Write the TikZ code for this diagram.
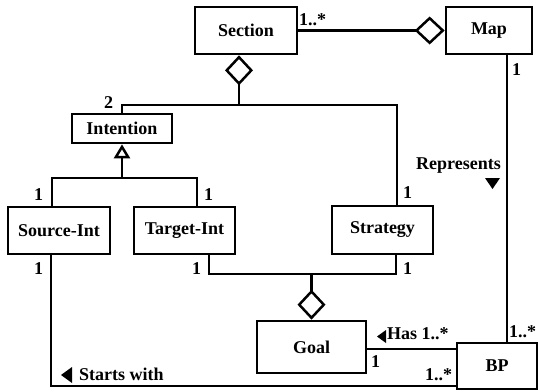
\documentclass[tikz,border=0pt]{standalone}
\usepackage{fontspec}
\setmainfont{Liberation Serif}
\usetikzlibrary{arrows.meta}
\begin{document}
\begin{tikzpicture}[x=1pt,y=-1pt,
  every node/.style={font=\fontsize{18}{20}\selectfont\bfseries},
  cls/.style={draw, line width=2.7pt, inner sep=0pt, fill=white},
  lbl/.style={inner sep=0pt, anchor=base west},
  link/.style={line width=2.5pt},
  agg/.tip={Diamond[open,length=30pt,width=28pt]},
  gen/.tip={Triangle[open,length=14pt,width=16pt]},
  dirmark/.style={fill=black}
]
\useasboundingbox (0,0) rectangle (538,391);

% classes
\node[cls, minimum width=102pt, minimum height=47pt] (section)  at (246,30.5)  {Section};
\node[cls, minimum width=86pt,  minimum height=47pt] (map)      at (489,30.5)  {Map};
\node[cls, minimum width=100pt, minimum height=29pt] (intention) at (122,128.5) {Intention};
\node[cls, minimum width=102pt, minimum height=47pt] (source)   at (59,230.5)  {Source-Int};
\node[cls, minimum width=101pt, minimum height=47pt] (target)   at (184.5,230.5) {Target-Int};
\node[cls, minimum width=101pt, minimum height=48pt] (strategy) at (382.5,230) {Strategy};
\node[cls, minimum width=109pt, minimum height=52pt] (goal)     at (311.5,347) {Goal};
\node[cls, minimum width=80pt,  minimum height=46pt] (bp)       at (497,366) {BP};

% junction points
\coordinate (secjoin) at (239,105);
\coordinate (stratjoin) at (397,105);
\coordinate (genjoin) at (122,178);
\coordinate (srcx) at (52,178);
\coordinate (tgtx) at (197,178);
\coordinate (srcbot) at (51,386);
\coordinate (tgtbot) at (209,274);
\coordinate (strbot) at (396,274);
\coordinate (hasy) at (0,349);
\coordinate (repx) at (507,0);

% Section -- Map aggregation
\draw[link, -agg] (section.east) -- (map.west);

% Section aggregates Intention and Strategy
\draw[link, agg-] (section.south -| secjoin) -- (secjoin);
\draw[link] (intention.north) -- (intention.north |- secjoin) -- (stratjoin) -- (strategy.north -| stratjoin);

% Source-Int and Target-Int specialise Intention
\draw[link, -gen] (genjoin) -- (intention.south);
\draw[link] (source.north -| srcx) -- (srcx) -- (tgtx) -- (target.north -| tgtx);

% Goal aggregates Target-Int and Strategy
\draw[link] (target.south -| tgtbot) -- (tgtbot) -- (strbot) -- (strategy.south -| strbot);
\draw[link, agg-] (goal.north) -- (goal.north |- tgtbot);

% Source-Int -- BP (Starts with)
\draw[link] (source.south -| srcbot) -- (srcbot) -- (bp.west |- srcbot);

% Goal -- BP (Has)
\draw[link] (goal.east |- hasy) -- (bp.west |- hasy);

% Map -- BP (Represents)
\draw[link] (map.south -| repx) -- (bp.north -| repx);

% multiplicities and role names
\node[lbl] (m-secmap) at (299,25) {1..*};
\node[lbl] (m-map) at (512,75) {1};
\node[lbl] (m-int) at (104,108) {2};
\node[lbl] (m-srctop) at (34,200) {1};
\node[lbl] (m-tgttop) at (204,200) {1};
\node[lbl] (m-strtop) at (403,198) {1};
\node[lbl] (represents) at (416,169) {Represents};
\node[lbl] (m-srcbot) at (34,274) {1};
\node[lbl] (m-tgtbot) at (192,274) {1};
\node[lbl] (m-strbot) at (403,274) {1};
\node[lbl] (startswith) at (79,380) {Starts with};
\node[lbl] (has) at (387,339) {Has 1..*};
\node[lbl] (m-goal) at (371,367) {1};
\node[lbl] (m-bpleft) at (425,380) {1..*};
\node[lbl] (m-bptop) at (509,337) {1..*};

% reading-direction markers
\fill[dirmark] (485,178) -- (500,178) -- (492.5,189) -- cycle;
\fill[dirmark] (72,367) -- (72,383) -- (61,375) -- cycle;
\fill[dirmark] (386,330) -- (386,343) -- (377,336.5) -- cycle;
\end{tikzpicture}
\end{document}
